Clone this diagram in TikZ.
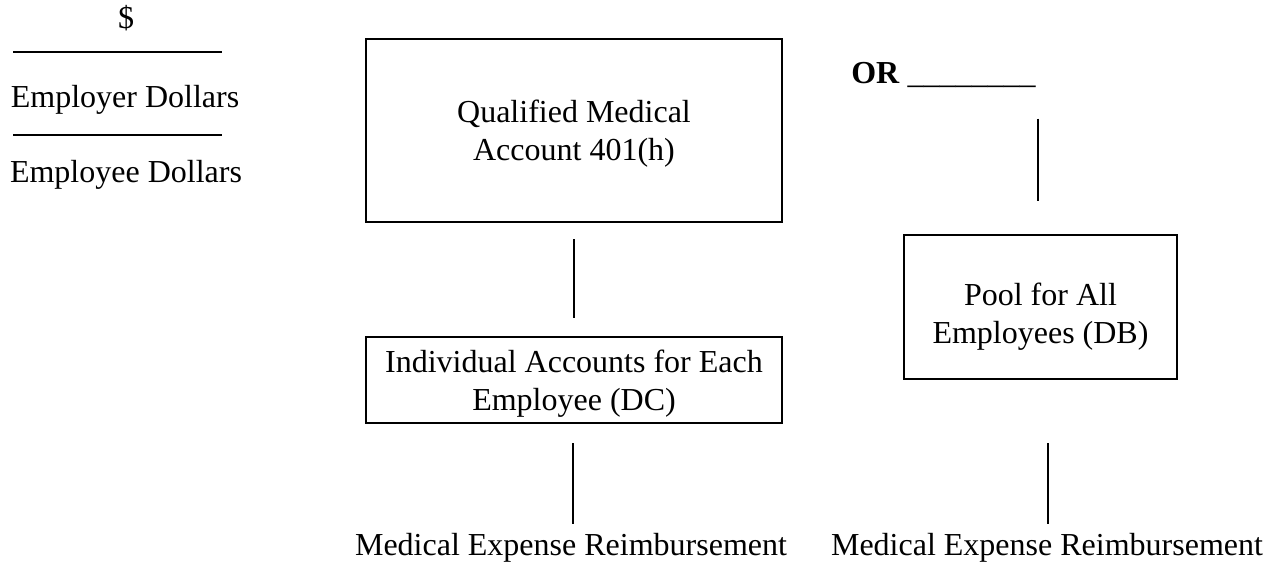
\documentclass[tikz,border=0pt]{standalone}
\usepackage{fontspec}
\setmainfont{Liberation Serif}
\usetikzlibrary{calc}

\begin{document}
\begin{tikzpicture}[x=0.375pt,y=-0.375pt,line width=1pt,
	font=\fontsize{12pt}{14.25pt}\selectfont,
	box/.style={draw,align=center,inner sep=0pt},
	lbl/.style={inner sep=0pt,anchor=base}]
	\useasboundingbox (0,0) rectangle (1272,569);
	\node[lbl] (dollar) at (126,28) {\$};
	\node[lbl] (employer) at (125,107) {Employer Dollars};
	\node[lbl] (employee) at (126,182) {Employee Dollars};
	\node[box,minimum width=156pt,minimum height=68.6pt] (qma) at (574,130.5) {\rule{0pt}{10.5pt}Qualified Medical\\Account 401(h)};
	\node[box,minimum width=156pt,minimum height=32.25pt] (indiv) at (574,380) {\rule{0pt}{11.3pt}Individual Accounts for Each\\Employee (DC)};
	\node[lbl,anchor=base west] (or) at (850,83) {\textbf{OR} \_\_\_\_\_\_\_\_};
	\node[box,minimum width=102.4pt,minimum height=54pt] (pool) at (1040.5,307) {\rule{0pt}{15.7pt}Pool for All\\Employees (DB)};
	\node[lbl] (medleft) at (571,555) {Medical Expense Reimbursement};
	\node[lbl] (medright) at (1047,555) {Medical Expense Reimbursement};
	%
	\draw (13,52) -- (222,52);
	\draw (13,135) -- (222,135);
	\draw ($(qma.south)+(0,16)$) -- ($(indiv.north)-(0,18)$);
	\draw ($(indiv.south)+(-1,19)$) -- ($(indiv.south)+(-1,100)$);
	\draw ($(pool.north)-(2.5,115)$) -- ($(pool.north)-(2.5,33)$);
	\draw ($(pool.south)+(7.5,63)$) -- ($(pool.south)+(7.5,144)$);
\end{tikzpicture}
\end{document}
